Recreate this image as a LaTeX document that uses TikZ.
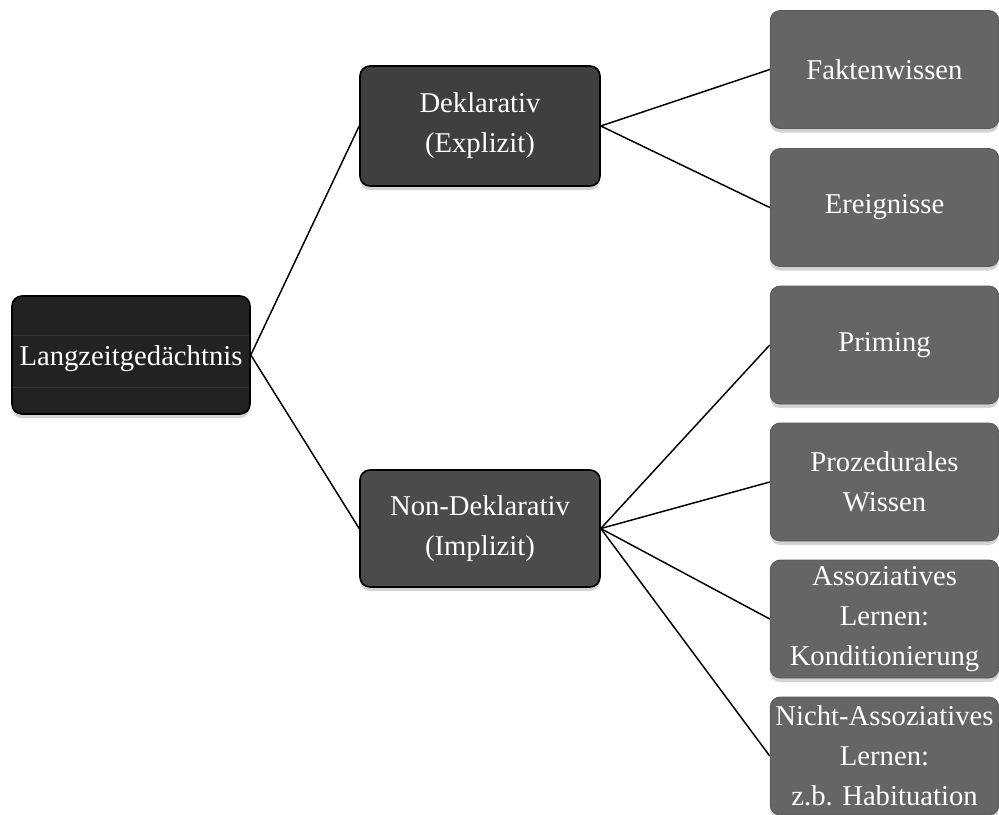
\documentclass[tikz,border=0pt]{standalone}
\usepackage{fontspec}
\setmainfont{Liberation Serif}
\usetikzlibrary{shadows}
\definecolor{rootfill}{HTML}{222222}
\definecolor{dekfill}{HTML}{403E3E}
\definecolor{ndfill}{HTML}{4C4A4A}
\definecolor{leaffill}{HTML}{666464}
\definecolor{leafline}{HTML}{5A5858}
\definecolor{rootinner}{HTML}{353535}
\tikzset{
  px/.style={x=0.75pt,y=-0.75pt},
  boxfont/.style={font=\fontsize{21.5}{30}\selectfont},
  boxbase/.style={rectangle, rounded corners=7.5pt, align=center, text=white,
    boxfont, inner sep=0pt,
    drop shadow={opacity=0.35, shadow xshift=0pt, shadow yshift=-3pt}},
  rootbox/.style={boxbase, fill=rootfill, draw=black, line width=1.2pt,
    minimum width=178.5pt, minimum height=88.5pt},
  midbox/.style={boxbase, draw=black, line width=1.2pt,
    minimum width=180pt},
  leafbox/.style={boxbase, fill=leaffill, draw=leafline, line width=0.6pt,
    minimum width=171.5pt, minimum height=88.5pt},
  link/.style={draw=black, line width=1.1pt}
}
\begin{document}
\begin{tikzpicture}[px]
\useasboundingbox (0,0) rectangle (999,814);
\node[rootbox] (root) at (131,355) {};
\draw[rootinner, line width=0.6pt] (13,335) -- (249,335) (13,387) -- (249,387);
\node[text=white, boxfont] (roottext) at (131,359) {Langzeitgedächtnis};
\node[midbox, fill=dekfill, minimum height=90pt] (dek) at (480,126) {Deklarativ\\(Explizit)};
\node[midbox, fill=ndfill, minimum height=87.75pt] (nd) at (480,528.5) {Non-Deklarativ\\(Implizit)};
\node[leafbox] (fakt) at (884.5,69.5) {Faktenwissen};
\node[leafbox] (ereig) at (884.5,207.5) {Ereignisse};
\node[leafbox] (prim) at (884.5,345) {Priming};
\node[leafbox] (proz) at (884.5,482) {Prozedurales\\Wissen};
\node[leafbox] (asso) at (884.5,619) {Assoziatives\\Lernen:\\Konditionierung};
\node[leafbox] (nicht) at (884.5,756) {Nicht-Assoziatives\\Lernen:\\z.b. Habituation};
\draw[link] (root.east) -- (dek.west);
\draw[link] (root.east) -- (nd.west);
\draw[link] (dek.east) -- (fakt.west);
\draw[link] (dek.east) -- (ereig.west);
\draw[link] (nd.east) -- (prim.west);
\draw[link] (nd.east) -- (proz.west);
\draw[link] (nd.east) -- (asso.west);
\draw[link] (nd.east) -- (nicht.west);
\end{tikzpicture}
\end{document}
